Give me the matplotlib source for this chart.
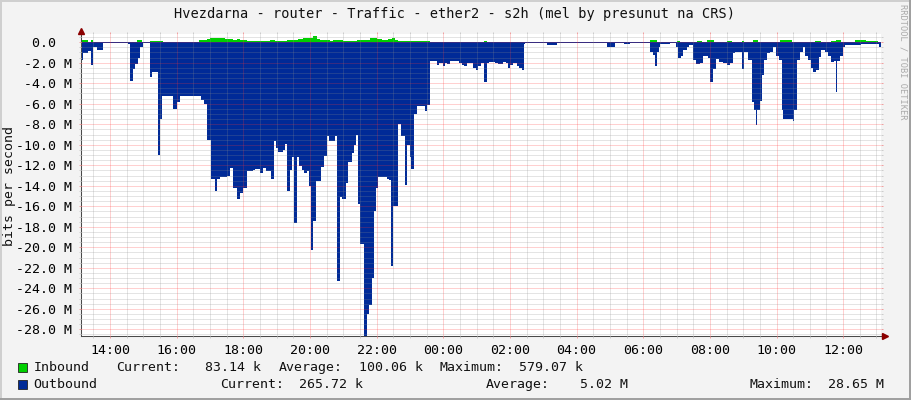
import matplotlib
matplotlib.use("Agg")
import matplotlib.pyplot as plt
from matplotlib.patches import Rectangle
from matplotlib.lines import Line2D
from matplotlib.ticker import FixedLocator, MultipleLocator
import matplotlib.transforms as mtrans
import numpy as np

# ---------------- data (values in Mbit/s) ----------------
out_times = ["13:07","13:11","13:20","13:25","13:29","13:36","13:47","14:32","14:36","14:41",
             "14:45","14:50","14:54","14:59","15:12","15:15","15:26","15:30","15:34","15:53",
             "16:00","16:06","16:44","16:49","16:55","17:01","17:09","17:13","17:18","17:30",
             "17:36","17:42","17:48","17:54","18:00","18:06","18:18","18:21","18:30","18:36",
             "18:40","18:49","18:55","18:59","19:03","19:12","19:15","19:19","19:24","19:27",
             "19:32","19:36","19:41","19:45","19:50","19:54","19:59","20:02","20:06","20:11",
             "20:19","20:25","20:30","20:35","20:45","20:49","20:54","20:57","21:05","21:09",
             "21:15","21:20","21:23","21:27","21:30","21:38","21:42","21:47","21:51","21:55",
             "21:59","22:03","22:18","22:22","22:25","22:30","22:39","22:43","22:51","22:55",
             "23:00","23:02","23:07","23:13","23:27","23:31","23:36","23:48","23:53","23:59",
             "00:03","00:07","00:12","00:29","00:33","00:37","00:42","00:54","00:59","01:03",
             "01:07","01:13","01:18","01:23","01:33","01:39","01:47","01:53","01:56","02:00",
             "02:06","02:12","02:17","02:21","02:25","02:27","03:06","03:24","04:54","05:09",
             "05:25","05:36","06:12","06:17","06:21","06:24","06:29","06:31","06:48","06:59",
             "07:02","07:08","07:12","07:18","07:22","07:30","07:35","07:42","07:47","07:57",
             "08:01","08:06","08:11","08:17","08:24","08:30","08:36","08:41","08:45","08:57",
             "09:02","09:09","09:15","09:19","09:23","09:25","09:30","09:33","09:37","09:43",
             "09:48","09:54","09:59","10:04","10:09","10:12","10:29","10:32","10:37","10:42",
             "10:47","10:51","10:57","11:02","11:06","11:12","11:17","11:21","11:27","11:33",
             "11:39","11:43","11:47","11:49","11:54","11:59","12:03","12:33","13:00","13:05",
             "13:08"]
out_vals = [-1.7,-1.1,-0.85,-2.2,-0.5,-0.75,-0.1,-0.2,-3.8,-2.6,
            -2.15,-1.55,-0.5,-0.1,-3.4,-2.9,-11.0,-7.5,-5.2,-6.5,
            -5.8,-5.2,-5.6,-6.0,-9.5,-13.3,-14.5,-13.3,-13.1,-13.0,
            -12.3,-14.2,-15.3,-14.7,-14.2,-12.6,-12.5,-12.4,-12.8,-12.3,
            -12.6,-13.3,-9.6,-10.3,-10.7,-10.5,-9.9,-14.5,-12.5,-11.2,
            -17.6,-11.2,-12.1,-12.5,-12.8,-12.6,-14.0,-20.3,-17.4,-13.5,
            -12.2,-11.1,-9.1,-9.6,-9.1,-23.3,-15.1,-15.3,-13.7,-11.7,
            -10.8,-10.0,-9.0,-15.8,-19.7,-28.65,-26.5,-25.6,-23.0,-16.5,
            -14.2,-13.1,-13.3,-13.4,-21.8,-16.0,-8.0,-9.1,-13.9,-10.0,
            -11.2,-12.4,-7.0,-6.2,-6.7,-6.1,-1.8,-2.2,-2.0,-2.3,
            -2.0,-2.1,-1.8,-2.0,-2.2,-2.3,-2.0,-2.5,-2.7,-2.3,
            -2.0,-3.9,-2.0,-1.9,-2.0,-2.1,-1.9,-2.0,-2.5,-2.2,
            -2.0,-2.3,-2.5,-2.75,-0.15,-0.1,-0.25,-0.1,-0.45,-0.1,
            -0.2,-0.1,-1.0,-1.2,-2.3,-1.0,-0.5,-0.15,-0.1,-0.5,
            -1.5,-1.3,-0.8,-0.5,-0.3,-1.75,-2.1,-2.0,-1.3,-1.5,
            -3.9,-2.6,-1.6,-1.9,-2.0,-2.25,-2.0,-1.1,-0.95,-2.6,
            -0.95,-1.75,-5.8,-6.6,-8.1,-6.6,-5.7,-3.2,-1.75,-1.1,
            -0.95,-0.5,-1.3,-1.75,-6.6,-7.45,-7.7,-6.6,-1.75,-0.95,
            -0.5,-1.3,-1.75,-2.55,-2.9,-2.75,-1.4,-0.8,-0.95,-1.3,
            -1.95,-1.8,-4.85,-1.8,-1.3,-0.5,-0.3,-0.2,-0.15,-0.5,
            -0.5]

in_times = ["13:07","13:09","13:20","13:25","13:30","14:48","14:57","15:12","15:35","16:41",
            "16:54","17:00","17:27","17:42","17:48","17:54","18:06","18:42","18:48","18:57",
            "19:18","19:33","19:39","19:48","19:57","20:06","20:12","20:18","20:36","20:42",
            "21:00","21:24","21:48","22:00","22:09","22:21","22:27","22:33","22:39","23:36",
            "01:13","01:18","06:12","06:24","07:00","07:06","07:36","07:45","07:54","08:07",
            "08:30","08:39","08:57","09:01","09:17","09:26","10:07","10:27","11:09","11:21",
            "11:39","11:48","11:57","12:21","12:42","13:02","13:08"]
in_vals = [0.0,0.17,0.0,0.17,0.0,0.2,0.0,0.12,0.03,0.2,
           0.35,0.45,0.3,0.25,0.3,0.25,0.15,0.1,0.25,0.15,
           0.2,0.25,0.35,0.45,0.4,0.58,0.35,0.2,0.15,0.2,
           0.15,0.2,0.42,0.35,0.2,0.3,0.4,0.25,0.15,0.02,
           0.15,0.02,0.2,0.02,0.15,0.02,0.15,0.02,0.2,0.02,
           0.15,0.02,0.15,0.02,0.25,0.02,0.25,0.02,0.15,0.02,
           0.15,0.25,0.02,0.25,0.15,0.05,0.05]

x_tick_hours = [14, 16, 18, 20, 22, 24, 26, 28, 30, 32, 34, 36]
x_tick_labels = ["14:00", "16:00", "18:00", "20:00", "22:00", "00:00",
                 "02:00", "04:00", "06:00", "08:00", "10:00", "12:00"]
y_tick_vals = [0, -2, -4, -6, -8, -10, -12, -14, -16, -18, -20, -22, -24, -26, -28]
y_tick_labels = ["0.0  ", "-2.0 M", "-4.0 M", "-6.0 M", "-8.0 M", "-10.0 M", "-12.0 M",
                 "-14.0 M", "-16.0 M", "-18.0 M", "-20.0 M", "-22.0 M", "-24.0 M",
                 "-26.0 M", "-28.0 M"]

title = "Hvezdarna - router - Traffic - ether2 - s2h (mel by presunut na CRS)"
legend_rows = [
    ("Inbound", "#00CF00", [("Inbound", 33.5), ("Current:", 116), ("83.14 k", 204.6),
                            ("Average:", 279), ("100.06 k", 358.7), ("Maximum:", 440),
                            ("579.07 k", 519)]),
    ("Outbound", "#002A97", [("Outbound", 33.7), ("Current:", 219.8), ("265.72 k", 299.4),
                             ("Average:", 485.5), ("5.02 M", 580), ("Maximum:", 750),
                             ("28.65 M", 828.5)]),
]


def to_hours(times):
    res = []
    off = 0.0
    prev = None
    for s in times:
        h, m = s.split(":")
        v = int(h) + int(m) / 60.0 + off
        if prev is not None and v < prev:
            off += 24.0
            v += 24.0
        res.append(v)
        prev = v
    return np.array(res)


t_out = to_hours(out_times)
t_in = to_hours(in_times)

W, H = 911, 400
MONO = "DejaVu Sans Mono"
fig = plt.figure(figsize=(W / 100, H / 100), dpi=100)
fig.patch.set_facecolor("#F3F3F3")


def fx(px):
    return px / W


def fy(py):
    return 1 - py / H


ax = fig.add_axes([fx(80.5), fy(336), fx(881) - fx(80.5), fy(33.5) - fy(336)])
ax.set_facecolor("white")

ax.fill_between(t_in, in_vals, 0, step="post", color="#00CF00", lw=0, zorder=1)
ax.fill_between(t_out, out_vals, 0, step="post", color="#002A97", lw=0, zorder=1.1)

ax.set_xlim(13.112, 37.136)
ax.set_ylim(-28.65, 0.85)

ax.xaxis.set_major_locator(FixedLocator(x_tick_hours))
ax.xaxis.set_minor_locator(MultipleLocator(0.5))
ax.yaxis.set_major_locator(FixedLocator(y_tick_vals))
ax.yaxis.set_minor_locator(MultipleLocator(0.5))
ax.set_xticklabels(x_tick_labels, fontfamily=MONO, fontsize=9.5)
ax.set_yticklabels(y_tick_labels, fontfamily=MONO, fontsize=9.5)

ax.set_axisbelow(False)
ax.grid(which="minor", color=(0.55, 0.55, 0.55), alpha=0.45, lw=0.72,
        linestyle=(0, (1, 1)))
ax.grid(which="major", color=(1.0, 0.2, 0.2), alpha=0.45, lw=0.72,
        linestyle=(0, (1, 1)))

ax.tick_params(which="major", direction="out", length=1.6, width=0.72,
               color="#F0A0A0", top=True, right=True, pad=4.3)
ax.tick_params(which="minor", direction="out", length=1.6, width=0.72,
               color="#CCCCCC", top=True, right=True)
ax.tick_params(axis="y", which="major", pad=4.3)

for s in ("top", "right"):
    ax.spines[s].set_visible(False)
for s in ("left", "bottom"):
    ax.spines[s].set_color("#4A4A4A")
    ax.spines[s].set_linewidth(0.75)

# axis arrows
tr_up = mtrans.offset_copy(ax.transAxes, fig=fig, x=0, y=3, units="dots")
ax.plot([0], [1], marker="^", ms=4.5, color="#8B0000", mec="#8B0000",
        transform=tr_up, clip_on=False, zorder=5)
ax.add_line(Line2D([0, 0], [1, 1.01], transform=ax.transAxes, color="#4A4A4A",
                   lw=0.75, clip_on=False))
tr_rt = mtrans.offset_copy(ax.transAxes, fig=fig, x=4, y=0, units="dots")
ax.plot([1], [0], marker=">", ms=4.5, color="#8B0000", mec="#8B0000",
        transform=tr_rt, clip_on=False, zorder=5)
ax.add_line(Line2D([1, 1.004], [0, 0], transform=ax.transAxes, color="#4A4A4A",
                   lw=0.75, clip_on=False))

# title and labels
fig.text(fx(455), fy(14), title, ha="center", va="center", fontfamily=MONO,
         fontsize=9.8, color="#111111")
fig.text(fx(10), fy(186), "bits per second", rotation=90, ha="center", va="center",
         fontfamily=MONO, fontsize=9.5, color="#111111")
fig.text(fx(903.5), fy(4), "RRDTOOL / TOBI OETIKER", rotation=-90, ha="center", va="top",
         fontfamily=MONO, fontsize=6.2, color="#AAAAAA")

# legend
for i, (name, col, items) in enumerate(legend_rows):
    yc = 367.5 + i * 17
    fig.patches.append(Rectangle((fx(17.5), fy(yc + 4.8)), fx(9.5), (9.5 / H),
                                 transform=fig.transFigure, facecolor=col,
                                 edgecolor="#222222", lw=0.6))
    for txt, xp in items:
        fig.text(fx(xp), fy(yc), txt, ha="left", va="center", fontfamily=MONO,
                 fontsize=9.5, color="#111111")

# frame shading
fig.add_artist(Line2D([0, 1], [fy(1), fy(1)], transform=fig.transFigure, color="#CFCFCF", lw=1.4))
fig.add_artist(Line2D([fx(1), fx(1)], [0, 1], transform=fig.transFigure, color="#CFCFCF", lw=1.4))
fig.add_artist(Line2D([0, 1], [fy(399), fy(399)], transform=fig.transFigure, color="#9E9E9E", lw=1.4))
fig.add_artist(Line2D([fx(910), fx(910)], [0, 1], transform=fig.transFigure, color="#9E9E9E", lw=1.4))

fig.savefig("out.png", dpi=100, facecolor=fig.get_facecolor())
